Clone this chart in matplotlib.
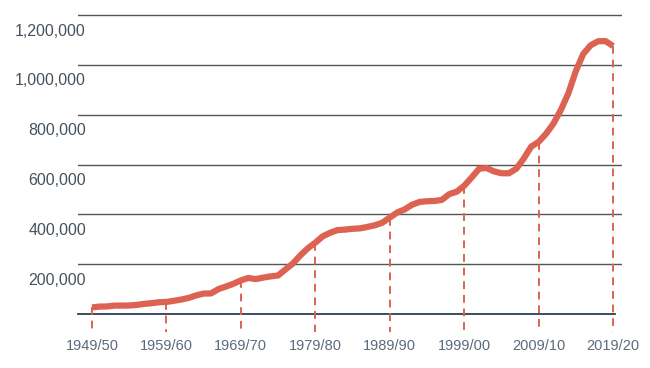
import numpy as np
import matplotlib.pyplot as plt

# international students enrolled, by academic year (start year)
years = np.arange(1949, 2020)
students = [26433, 29813, 30462, 33675, 33833, 34232, 36494, 40666, 43391, 47245,
            48486, 53107, 58086, 64705, 74814, 82045, 82709, 100262, 110315, 121362,
            134959, 144708, 140126, 146097, 151066, 154580, 179344, 203068, 235509, 263938,
            286343, 311882, 326299, 336985, 338894, 342113, 343777, 349609, 356187, 366354,
            386851, 407529, 419585, 438618, 449749, 452635, 453787, 457984, 481280, 490933,
            514723, 547867, 582996, 586323, 572509, 565039, 564766, 582984, 623805, 671616,
            690923, 723277, 764495, 819644, 886052, 974926, 1043839, 1078822, 1094792, 1095299,
            1075496]

tick_years = [1949, 1959, 1969, 1979, 1989, 1999, 2009, 2019]
tick_labels = ['1949/50', '1959/60', '1969/70', '1979/80', '1989/90', '1999/00', '2009/10', '2019/20']
grid_vals = [200000, 400000, 600000, 800000, 1000000, 1200000]
grid_labels = ['200,000', '400,000', '600,000', '800,000', '1,000,000', '1,200,000']

red = '#dc6352'
plt.rcParams['font.family'] = ['Liberation Sans', 'DejaVu Sans']

fig = plt.figure(figsize=(6.5, 3.68), dpi=100)
ax = fig.add_axes([0.12, 0.1467, 0.837, 0.826])
ax.set_xlim(1947.12, 2020.21)
ax.set_ylim(0, 1220000)
ax.axis('off')

for v, lab in zip(grid_vals, grid_labels):
    ax.axhline(v, color='#555555', lw=1.0, zorder=1)
    ax.annotate(lab, xy=(0, v), xycoords=('axes fraction', 'data'),
                xytext=(8, -16), textcoords='offset pixels',
                ha='right', va='center', fontsize=11.5, color='#46525e')

# baseline
ax.plot([1947.12, 2019.3], [0, 0], color='#2c3e55', lw=1.3, zorder=2, clip_on=False)

# dashed drops from curve to below axis
lookup = dict(zip(years, students))
for yr, lab in zip(tick_years, tick_labels):
    ax.plot([yr, yr], [lookup[yr], -72000], color=red, lw=1.4,
            ls=(0, (4, 3)), clip_on=False, zorder=2)
    ax.annotate(lab, xy=(yr, 0), xycoords='data', xytext=(0, -32),
                textcoords='offset pixels', ha='center', va='center',
                fontsize=10.5, color='#5b6b7c')

ax.plot(years, students, color=red, lw=4.5, solid_joinstyle='round',
        solid_capstyle='butt', zorder=3, clip_on=False)

fig.savefig('out.png', dpi=100)
